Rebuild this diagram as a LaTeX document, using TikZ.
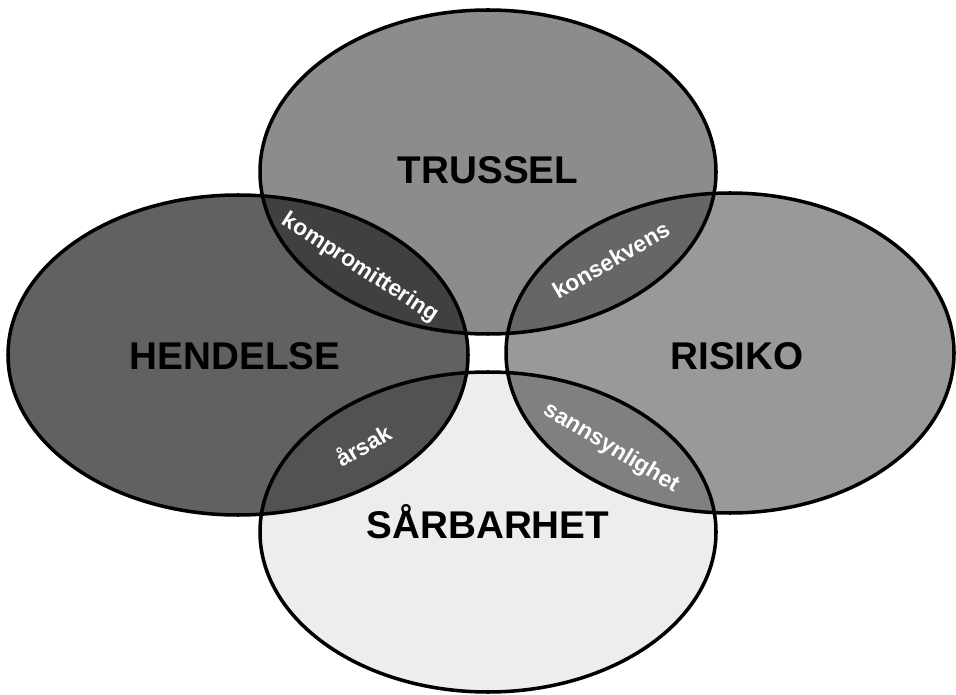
\documentclass[tikz,border=0pt]{standalone}
\usepackage{fontspec}
\setmainfont{Liberation Sans}
\definecolor{TrusselGray}{gray}{0.55}
\definecolor{HendelseGray}{gray}{0.38}
\definecolor{RisikoGray}{gray}{0.60}
\definecolor{SarbarGray}{gray}{0.93}
\definecolor{KompGray}{gray}{0.25}
\definecolor{KonsGray}{gray}{0.40}
\definecolor{ArsakGray}{gray}{0.32}
\definecolor{SannGray}{gray}{0.50}
\tikzset{
  setlabel/.style={
    inner sep=0pt,
    text=black,
    font=\fontsize{22}{24}\selectfont\bfseries
  },
  lenslabel/.style={
    inner sep=0pt,
    text=white,
    font=\fontsize{13}{15}\selectfont\bfseries
  },
  setline/.style={
    draw=black,
    line width=2pt
  }
}
\newcommand{\trusselarea}{(488,172) ellipse [x radius=228, y radius=162]}
\newcommand{\hendelsearea}{(238,355) ellipse [x radius=230, y radius=160]}
\newcommand{\risikoarea}{(730,353) ellipse [x radius=224, y radius=160]}
\newcommand{\sarbararea}{(488,532) ellipse [x radius=228, y radius=160]}

\begin{document}
\begin{tikzpicture}[x=0.02cm, y=-0.02cm]
\useasboundingbox (0,0) rectangle (956,695);
\fill[white] (0,0) rectangle (956,695);

% the four sets
\fill[TrusselGray] \trusselarea;
\fill[HendelseGray] \hendelsearea;
\fill[RisikoGray] \risikoarea;
\fill[SarbarGray] \sarbararea;

% overlaps
\begin{scope}
  \clip \trusselarea;
  \fill[KompGray] \hendelsearea;
  \fill[KonsGray] \risikoarea;
\end{scope}
\begin{scope}
  \clip \sarbararea;
  \fill[ArsakGray] \hendelsearea;
  \fill[SannGray] \risikoarea;
\end{scope}

\draw[setline] \trusselarea;
\draw[setline] \hendelsearea;
\draw[setline] \risikoarea;
\draw[setline] \sarbararea;

\node[setlabel] (trussel) at (488,170) {TRUSSEL};
\node[setlabel] (hendelse) at (235,356) {HENDELSE};
\node[setlabel] (risiko) at (737,356) {RISIKO};
\node[setlabel] (sarbarhet) at (488,522) {SÅRBARHET};

\node[lenslabel, rotate=-33] (komp) at (360,268) {kompromittering};
\node[lenslabel, rotate=30] (kons) at (611,260) {konsekvens};
\node[lenslabel, rotate=30] (arsak) at (363,445) {årsak};
\node[lenslabel, rotate=-31] (sann) at (611,448) {sannsynlighet};
\end{tikzpicture}
\end{document}
